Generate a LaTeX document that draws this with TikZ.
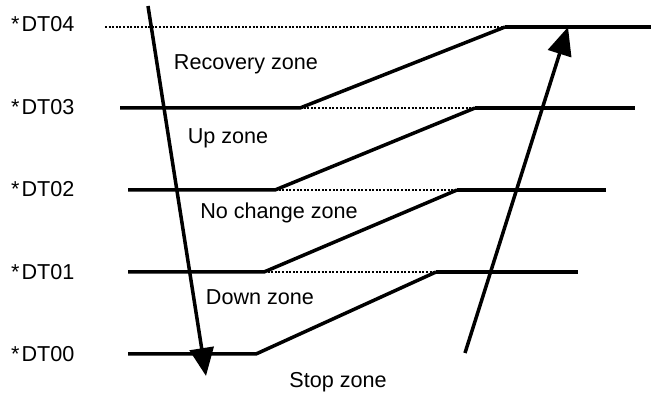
\documentclass[tikz,border=0pt]{standalone}
\usepackage{fontspec}
\setmainfont{Liberation Sans}
\usetikzlibrary{arrows.meta}

\begin{document}
\begin{tikzpicture}[
  x=1pt,y=-1pt,
  level/.style={line width=3.5pt},
  guide/.style={line width=2pt,dash pattern=on 2pt off 1.6pt},
  move/.style={line width=3.5pt,-{Triangle[length=28pt,width=24pt]}},
  lbl/.style={inner sep=0pt,font=\fontsize{21.6}{26}\selectfont},
  tag/.style={lbl,anchor=west}
]
\useasboundingbox (0,0) rectangle (651,395);
% level labels
\node[tag] (dt4) at (11,24) {*\kern2pt DT04};
\node[tag] (dt3) at (11,107) {*\kern2pt DT03};
\node[tag] (dt2) at (11,189) {*\kern2pt DT02};
\node[tag] (dt1) at (11,272) {*\kern2pt DT01};
\node[tag] (dt0) at (11,354) {*\kern2pt DT00};
% zone labels
\node[lbl] (recovery) at (246,64) {Recovery zone};
\node[lbl] (up) at (228,138) {Up zone};
\node[lbl] (nochange) at (279,213) {No change zone};
\node[lbl] (down) at (260,297) {Down zone};
\node[lbl] (stop) at (338,382) {Stop zone};
% break points
\coordinate (a4) at (105,27);  \coordinate (b4) at (505,27);  \coordinate (c4) at (651,27);
\coordinate (a3) at (120,108); \coordinate (k3) at (300,108); \coordinate (b3) at (475,108); \coordinate (c3) at (635,108);
\coordinate (a2) at (128,190); \coordinate (k2) at (275,190); \coordinate (b2) at (457,190); \coordinate (c2) at (606,190);
\coordinate (a1) at (128,272); \coordinate (k1) at (264,272); \coordinate (b1) at (436,272); \coordinate (c1) at (578,272);
\coordinate (a0) at (128,354); \coordinate (k0) at (256,354);
% thresholds
\draw[guide] (a4) -- (b4);
\draw[level] (b4) -- (c4);
\draw[level] (a3) -- (k3) -- (b4);
\draw[guide] (k3) -- (b3);
\draw[level] (b3) -- (c3);
\draw[level] (a2) -- (k2) -- (b3);
\draw[guide] (k2) -- (b2);
\draw[level] (b2) -- (c2);
\draw[level] (a1) -- (k1) -- (b2);
\draw[guide] (k1) -- (b1);
\draw[level] (b1) -- (c1);
\draw[level] (a0) -- (k0) -- (b1);
% falling and rising
\coordinate (fallstart) at (148,6);
\coordinate (fallend) at (206,376);
\coordinate (risestart) at (465,353);
\coordinate (riseend) at (568,27);
\draw[move] (fallstart) -- (fallend);
\draw[move] (risestart) -- (riseend);
\end{tikzpicture}
\end{document}
